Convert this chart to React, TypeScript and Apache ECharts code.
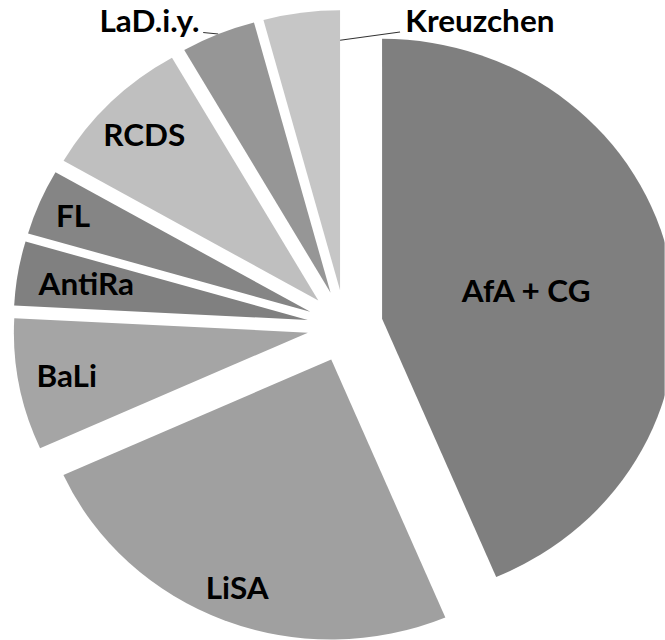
import React, { useEffect, useRef } from "react";
import * as echarts from "echarts";

// Slices, clockwise from 12 o'clock
const categories = ["AfA + CG", "LiSA", "BaLi", "AntiRa", "FL", "RCDS", "LaD.i.y.", "Kreuzchen"];
const shares = [43.7, 24.6, 7.6, 3.7, 3.8, 8.4, 4.1, 4.2];
const sliceColors = ["#7f7f7f", "#a0a0a0", "#a5a5a5", "#808080", "#858585", "#bfbfbf", "#969696", "#c6c6c6"];
// where the inside labels sit, as a fraction of the radius (null = outside label)
const labelRadiusFraction: (number | null)[] = [0.5, 0.877, 0.835, 0.764, 0.877, 0.838, null, null];

const STRETCH = 1.05; // the original picture is slightly wider than tall
const WIDTH = 665 / STRETCH;
const HEIGHT = 640;
const CX = 328.6;
const CY = 326;
const RADIUS = 280;
const EXPLODE = 36;

const rad = (deg: number) => (deg * Math.PI) / 180;

export default function App() {
  const ref = useRef<HTMLDivElement>(null);
  useEffect(() => {
    if (!ref.current) return;
    const chart = echarts.init(ref.current, undefined, { renderer: "svg" });
    const total = shares.reduce((a, b) => a + b, 0);
    const starts: number[] = [];
    const ends: number[] = [];
    let acc = 0;
    shares.forEach((v) => {
      starts.push((acc / total) * 360);
      acc += v;
      ends.push((acc / total) * 360);
    });
    const mids = starts.map((s, i) => (s + ends[i]) / 2);
    const apex = mids.map((m) => [CX + EXPLODE * Math.sin(rad(m)), CY - EXPLODE * Math.cos(rad(m))]);

    const labelFont = {
      fontFamily: "Lato",
      fontWeight: "bold" as const,
      fontSize: 30,
      color: "#000",
    };

    const series = categories.map((_, i) => {
      const [ax, ay] = apex[i];
      const outside = labelRadiusFraction[i] == null;
      return {
        type: "pie",
        center: [ax, ay],
        radius: [0, RADIUS],
        startAngle: 90,
        clockwise: true,
        avoidLabelOverlap: false,
        silent: true,
        emphasis: { disabled: true },
        itemStyle: { borderWidth: 0 },
        data: categories.map((name, j) => ({
          name,
          value: shares[j],
          itemStyle: { color: j === i ? sliceColors[j] : "rgba(0,0,0,0)", borderWidth: 0 },
          label: {
            show: j === i,
            position: outside ? "outside" : "inside",
            formatter: "{b}",
            ...labelFont,
          },
          labelLine: {
            show: j === i && outside,
            lineStyle: { color: "#333333", width: 1 },
          },
        })),
        labelLayout: (p: any) => {
          const j = p.dataIndex;
          if (j !== i) return {};
          const m = rad(mids[j]);
          const f = labelRadiusFraction[j];
          if (f != null) {
            return {
              x: ax + f * RADIUS * Math.sin(m),
              y: ay - f * RADIUS * Math.cos(m),
              align: "center",
              verticalAlign: "middle",
            };
          }
          if (categories[j] === "LaD.i.y.") {
            const arc = [ax + RADIUS * Math.sin(m), ay - RADIUS * Math.cos(m)];
            return {
              x: 190,
              y: 21,
              align: "right",
              verticalAlign: "middle",
              labelLinePoints: [arc, [193.5, 32.5], [193.5, 32.5]],
            };
          }
          const e = rad(ends[j]);
          const edge = [ax + 0.893 * RADIUS * Math.sin(e), ay - 0.893 * RADIUS * Math.cos(e)];
          return {
            x: 386,
            y: 21,
            align: "left",
            verticalAlign: "middle",
            labelLinePoints: [edge, [381, 32], [381, 32]],
          };
        },
      };
    });

    chart.setOption({
      animation: false,
      backgroundColor: "#ffffff",
      series,
    } as any);
    return () => chart.dispose();
  }, []);

  return (
    <div
      style={{
        position: "fixed",
        left: 0,
        top: 0,
        width: 665,
        height: 640,
        overflow: "hidden",
        background: "#fff",
      }}
    >
      <div
        ref={ref}
        style={{
          width: WIDTH,
          height: HEIGHT,
          transform: `scaleX(${STRETCH})`,
          transformOrigin: "0 0",
        }}
      />
    </div>
  );
}
